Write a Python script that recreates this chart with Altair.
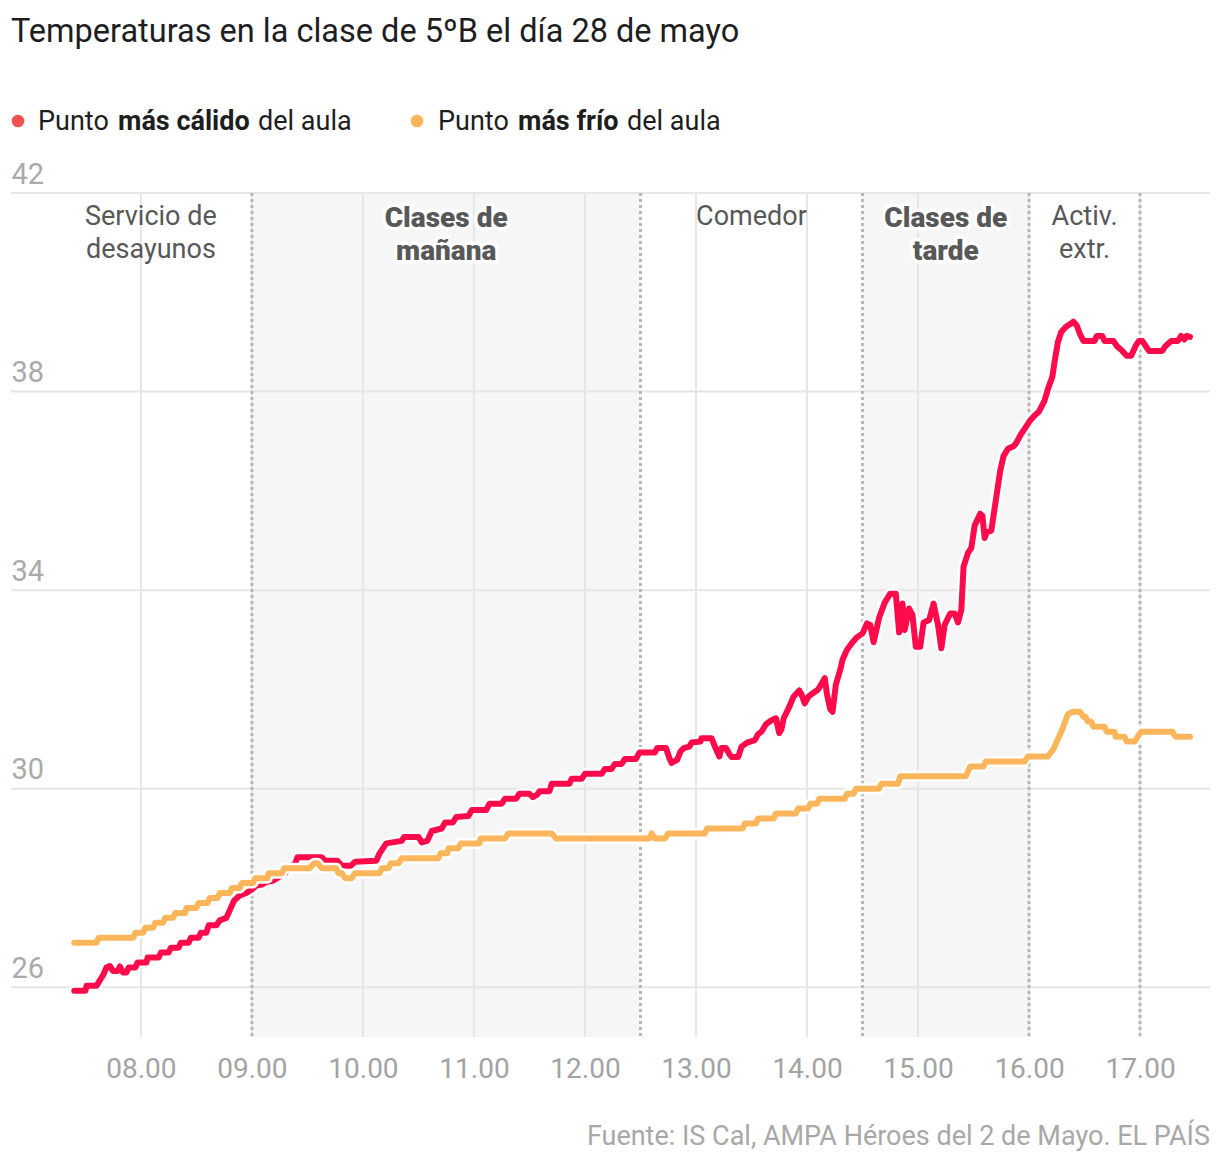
import altair as alt
import pandas as pd

# ---------------- data ----------------
title_text = "Temperaturas en la clase de 5ºB el día 28 de mayo"
source_text = "Fuente: IS Cal, AMPA Héroes del 2 de Mayo. EL PAÍS"

# Warmest point of the classroom (hour of day, ºC)
warm_t = [7.40, 7.50, 7.51, 7.60, 7.66, 7.69, 7.72, 7.75, 7.79, 7.81, 7.84, 7.87, 7.89, 7.95, 7.97,
          8.05, 8.06, 8.16, 8.18, 8.25, 8.27, 8.34, 8.36, 8.43, 8.45, 8.52, 8.54, 8.59, 8.61, 8.68,
          8.71, 8.77, 8.80, 8.84, 8.89, 8.95, 9.00, 9.04, 9.09, 9.13, 9.19, 9.30, 9.39, 9.41, 9.63,
          9.66, 9.77, 9.81, 9.89, 9.93, 10.12, 10.15, 10.21, 10.35, 10.37, 10.50, 10.53, 10.58, 10.62,
          10.71, 10.74, 10.81, 10.84, 10.95, 10.98, 11.11, 11.14, 11.25, 11.28, 11.38, 11.41, 11.50,
          11.53, 11.57, 11.59, 11.68, 11.70, 11.86, 11.88, 11.97, 12.00, 12.15, 12.18, 12.24, 12.27,
          12.33, 12.36, 12.46, 12.49, 12.63, 12.65, 12.73, 12.76, 12.78, 12.83, 12.86, 12.89, 12.94,
          12.96, 13.04, 13.05, 13.14, 13.18, 13.21, 13.23, 13.27, 13.30, 13.32, 13.38, 13.41, 13.46,
          13.53, 13.56, 13.59, 13.63, 13.68, 13.72, 13.75, 13.77, 13.79, 13.84, 13.88, 13.93, 13.95,
          13.98, 14.01, 14.05, 14.10, 14.14, 14.16, 14.18, 14.21, 14.23, 14.26, 14.30, 14.32, 14.36,
          14.41, 14.45, 14.50, 14.54, 14.57, 14.60, 14.65, 14.70, 14.75, 14.80, 14.83, 14.86, 14.88,
          14.92, 14.95, 14.98, 15.02, 15.05, 15.10, 15.14, 15.18, 15.21, 15.24, 15.29, 15.33, 15.36,
          15.39, 15.41, 15.45, 15.48, 15.51, 15.56, 15.58, 15.60, 15.62, 15.66, 15.68, 15.71, 15.74,
          15.77, 15.81, 15.86, 15.88, 15.93, 15.96, 16.01, 16.05, 16.09, 16.14, 16.17, 16.21, 16.23,
          16.26, 16.29, 16.33, 16.37, 16.40, 16.43, 16.46, 16.49, 16.59, 16.61, 16.66, 16.68, 16.76,
          16.79, 16.84, 16.88, 16.92, 16.96, 16.99, 17.02, 17.05, 17.08, 17.20, 17.23, 17.28, 17.34,
          17.37, 17.40, 17.42, 17.45]
warm_v = [25.93, 25.93, 26.03, 26.03, 26.25, 26.4, 26.43, 26.33, 26.33, 26.42, 26.3, 26.3, 26.4, 26.4, 26.5,
          26.5, 26.6, 26.6, 26.7, 26.7, 26.8, 26.8, 26.9, 26.9, 27.0, 27.0, 27.1, 27.1, 27.25, 27.25,
          27.35, 27.4, 27.55, 27.75, 27.85, 27.9, 27.97, 28.05, 28.07, 28.12, 28.15, 28.3, 28.5, 28.62, 28.62,
          28.55, 28.55, 28.45, 28.45, 28.53, 28.55, 28.7, 28.9, 28.95, 29.03, 29.03, 28.92, 28.95, 29.15,
          29.2, 29.32, 29.32, 29.43, 29.45, 29.57, 29.57, 29.7, 29.7, 29.8, 29.8, 29.9, 29.9,
          29.83, 29.88, 29.95, 29.95, 30.1, 30.1, 30.2, 30.2, 30.3, 30.3, 30.4, 30.4, 30.5,
          30.5, 30.6, 30.6, 30.73, 30.73, 30.82, 30.82, 30.62, 30.52, 30.58, 30.75, 30.82, 30.85,
          30.93, 30.95, 31.02, 31.02, 30.8, 30.65, 30.82, 30.82, 30.7, 30.64, 30.64, 30.85, 30.93,
          30.98, 31.1, 31.15, 31.3, 31.38, 31.42, 31.12, 31.2, 31.42, 31.65, 31.86, 31.98, 31.9,
          31.72, 31.85, 31.92, 32.0, 32.15, 32.23, 31.9, 31.6, 31.55, 32.1, 32.4, 32.6, 32.8,
          32.95, 33.05, 33.13, 33.33, 33.3, 32.95, 33.45, 33.75, 33.93, 33.93, 33.15, 33.73, 33.2,
          33.63, 33.5, 32.86, 32.86, 33.35, 33.4, 33.73, 33.3, 32.83, 33.3, 33.53, 33.53, 33.35,
          33.6, 34.47, 34.75, 34.85, 35.3, 35.54, 35.5, 35.05, 35.17, 35.2, 35.5, 35.95, 36.4,
          36.7, 36.85, 36.9, 36.95, 37.15, 37.25, 37.42, 37.52, 37.6, 37.82, 38.05, 38.3, 38.6,
          39.0, 39.2, 39.3, 39.36, 39.41, 39.33, 39.15, 39.02, 39.02, 39.12, 39.12, 39.02, 39.02,
          38.92, 38.82, 38.72, 38.72, 38.92, 39.02, 39.02, 38.92, 38.82, 38.82, 38.92, 39.02, 39.02,
          39.12, 39.05, 39.12, 39.1]

# Coldest point of the classroom (hour of day, ºC)
cold_t = [7.40, 7.60, 7.62, 7.93, 7.95, 8.02, 8.04, 8.11, 8.13, 8.20, 8.22, 8.29, 8.31, 8.40, 8.41,
          8.50, 8.52, 8.60, 8.62, 8.69, 8.71, 8.80, 8.82, 8.89, 8.91, 9.01, 9.03, 9.14, 9.15, 9.27,
          9.29, 9.52, 9.56, 9.59, 9.63, 9.76, 9.78, 9.81, 9.84, 9.90, 9.93, 10.15, 10.17, 10.23, 10.25,
          10.32, 10.35, 10.68, 10.70, 10.76, 10.77, 10.86, 10.88, 11.05, 11.06, 11.28, 11.31, 11.70,
          11.74, 12.58, 12.60, 12.63, 12.72, 12.75, 13.08, 13.10, 13.42, 13.44, 13.54, 13.56, 13.70,
          13.72, 13.90, 13.92, 14.01, 14.03, 14.09, 14.11, 14.34, 14.36, 14.42, 14.44, 14.65, 14.67,
          14.82, 14.84, 15.43, 15.47, 15.59, 15.61, 15.96, 15.99, 16.17, 16.22, 16.25, 16.30, 16.35,
          16.39, 16.46, 16.49, 16.51, 16.53, 16.56, 16.58, 16.68, 16.70, 16.77, 16.78, 16.86, 16.88,
          16.95, 16.98, 17.01, 17.29, 17.32, 17.45]
cold_v = [26.9, 26.9, 27.0, 27.0, 27.1, 27.1, 27.2, 27.2, 27.3, 27.3, 27.4, 27.4, 27.5, 27.5, 27.6,
          27.6, 27.7, 27.7, 27.8, 27.8, 27.9, 27.9, 28.0, 28.0, 28.1, 28.1, 28.2, 28.2, 28.3, 28.3,
          28.4, 28.4, 28.5, 28.5, 28.4, 28.4, 28.3, 28.3, 28.2, 28.2, 28.3, 28.3, 28.4, 28.4, 28.5,
          28.5, 28.6, 28.6, 28.7, 28.7, 28.8, 28.8, 28.9, 28.9, 29.0, 29.0, 29.1, 29.1,
          29.0, 29.0, 29.1, 29.0, 29.0, 29.1, 29.1, 29.2, 29.2, 29.3, 29.3, 29.4, 29.4,
          29.5, 29.5, 29.6, 29.6, 29.7, 29.7, 29.8, 29.8, 29.9, 29.9, 30.0, 30.0, 30.1,
          30.1, 30.25, 30.25, 30.45, 30.45, 30.55, 30.55, 30.65, 30.65, 30.8, 30.95, 31.2, 31.5,
          31.55, 31.55, 31.45, 31.45, 31.35, 31.35, 31.25, 31.25, 31.15, 31.15, 31.05, 31.05, 30.95,
          30.95, 31.05, 31.15, 31.15, 31.05, 31.05]

x_ticks = [8, 9, 10, 11, 12, 13, 14, 15, 16, 17]
y_ticks = [26, 30, 34, 38, 42]
period_bounds = [9, 12.5, 14.5, 16, 17]
shade_start = [9, 14.5]
shade_end = [12.5, 16]
period_center = [8.09, 10.75, 13.5, 15.25, 16.5]
period_line1 = ["Servicio de", "Clases de", "Comedor", "Clases de", "Activ."]
period_line2 = ["desayunos", "mañana", "", "tarde", "extr."]
period_bold = [False, True, False, True, False]

legend_warm = ["Punto", "más cálido", "del aula"]
legend_cold = ["Punto", "más frío", "del aula"]

# ---------------- styling ----------------
W, H = 1199, 844
FONT = "Roboto"
RED = "#ff0b4b"
ORANGE = "#fbb65b"
xs = alt.Scale(domain=[6.83, 17.63], nice=False, zero=False)
ys = alt.Scale(domain=[25, 42], nice=False, zero=False)

warm_df = pd.DataFrame({"t": warm_t, "v": warm_v})
cold_df = pd.DataFrame({"t": cold_t, "v": cold_v})
xt_df = pd.DataFrame({"t": x_ticks})
yt_df = pd.DataFrame({"v": y_ticks})
bound_df = pd.DataFrame({"t": period_bounds})
shade_df = pd.DataFrame({"t": shade_start, "t2": shade_end})
period_df = pd.DataFrame({"t": period_center, "l1": period_line1, "l2": period_line2, "bold": period_bold})
one = pd.DataFrame({"a": [0]})

x_axis = alt.Axis(values=x_ticks, labelExpr="(datum.value < 10 ? '0' : '') + datum.value + '.00'")
y_axis = alt.Axis(values=y_ticks)


def X(field="t", axis=None):
    if axis is None:
        return alt.X(f"{field}:Q", scale=xs, title=None)
    return alt.X(f"{field}:Q", scale=xs, title=None, axis=axis)


def Y(field="v", axis=None):
    if axis is None:
        return alt.Y(f"{field}:Q", scale=ys, title=None)
    return alt.Y(f"{field}:Q", scale=ys, title=None, axis=axis)


shade = alt.Chart(shade_df).mark_rect(color="#f6f6f6").encode(
    x=X("t"), x2="t2:Q", y=alt.value(0), y2=alt.value(H))

vgrid = alt.Chart(xt_df).mark_rule(color="#e6e6e6", strokeWidth=2).encode(x=X("t", x_axis))
hgrid = alt.Chart(yt_df).mark_rule(color="#e6e6e6", strokeWidth=2).encode(y=Y("v", y_axis))
bounds = alt.Chart(bound_df).mark_rule(color="#b8b8b8", strokeWidth=3, strokeDash=[3, 3]).encode(x=X("t"))


def series(df, color):
    halo = alt.Chart(df).mark_line(color="white", strokeWidth=11, strokeCap="round",
                                   strokeJoin="round").encode(x=X(), y=Y())
    line = alt.Chart(df).mark_line(color=color, strokeWidth=6, strokeCap="round",
                                   strokeJoin="round").encode(x=X(), y=Y())
    return halo + line


def period_text(field, y, bold):
    base = alt.Chart(period_df).transform_filter("datum.bold" if bold else "!datum.bold")
    kw = dict(font=FONT, fontSize=28 if bold else 27, align="center", baseline="alphabetic",
              fontWeight=900 if bold else "normal")
    enc = dict(x=X("t"), y=alt.value(y), text=f"{field}:N")
    layers = []
    if bold:
        layers.append(base.mark_text(color="white", stroke="white", strokeWidth=7,
                                     strokeJoin="round", **kw).encode(**enc))
    layers.append(base.mark_text(color="#585858", **kw).encode(**enc))
    return alt.layer(*layers)


def label(txt, x, y, size, color, weight="normal", align="left"):
    return alt.Chart(one).mark_text(text=txt, font=FONT, fontSize=size, color=color,
                                    fontWeight=weight, align=align,
                                    baseline="alphabetic").encode(x=alt.value(x), y=alt.value(y))


def dot(x, y, color):
    return alt.Chart(one).mark_circle(color=color, size=160, opacity=1).encode(
        x=alt.value(x), y=alt.value(y))


title = label(title_text, 0, -151, 32.5, "#1e1e1e")
leg = alt.layer(
    dot(7, -72, "#f0534f"),
    label(legend_warm[0], 27, -63, 27, "#1e1e1e"),
    label(legend_warm[1], 107, -63, 27, "#1e1e1e", "bold"),
    label(legend_warm[2], 247, -63, 27, "#1e1e1e"),
    dot(406, -72, ORANGE),
    label(legend_cold[0], 427, -63, 27, "#1e1e1e"),
    label(legend_cold[1], 507, -63, 27, "#1e1e1e", "bold"),
    label(legend_cold[2], 616, -63, 27, "#1e1e1e"),
)
source = label(source_text, W, 952, 27, "#a8a8a8", align="right")

chart = alt.layer(
    shade, vgrid, hgrid, bounds,
    period_text("l1", 32, False), period_text("l2", 65, False),
    period_text("l1", 34, True), period_text("l2", 67, True),
    series(warm_df, RED), series(cold_df, ORANGE),
    title, leg, source,
).properties(
    width=W, height=H,
    padding={"left": 11, "top": 193, "right": 10, "bottom": 127},
    autosize=alt.AutoSizeParams(type="none"),
).configure_view(stroke=None).configure_axis(
    grid=False, domain=False, ticks=False, labelFont=FONT,
).configure_axisX(
    labelFontSize=28, labelColor="#a3a3a3", labelPadding=40, labelBaseline="alphabetic",
).configure_axisY(
    labelFontSize=29, labelColor="#aaaaaa", labelAlign="left", labelBaseline="alphabetic",
    labelPadding=0, labelOffset=-10,
)

chart.save("out.html", embed_options={"renderer": "svg", "actions": False})
